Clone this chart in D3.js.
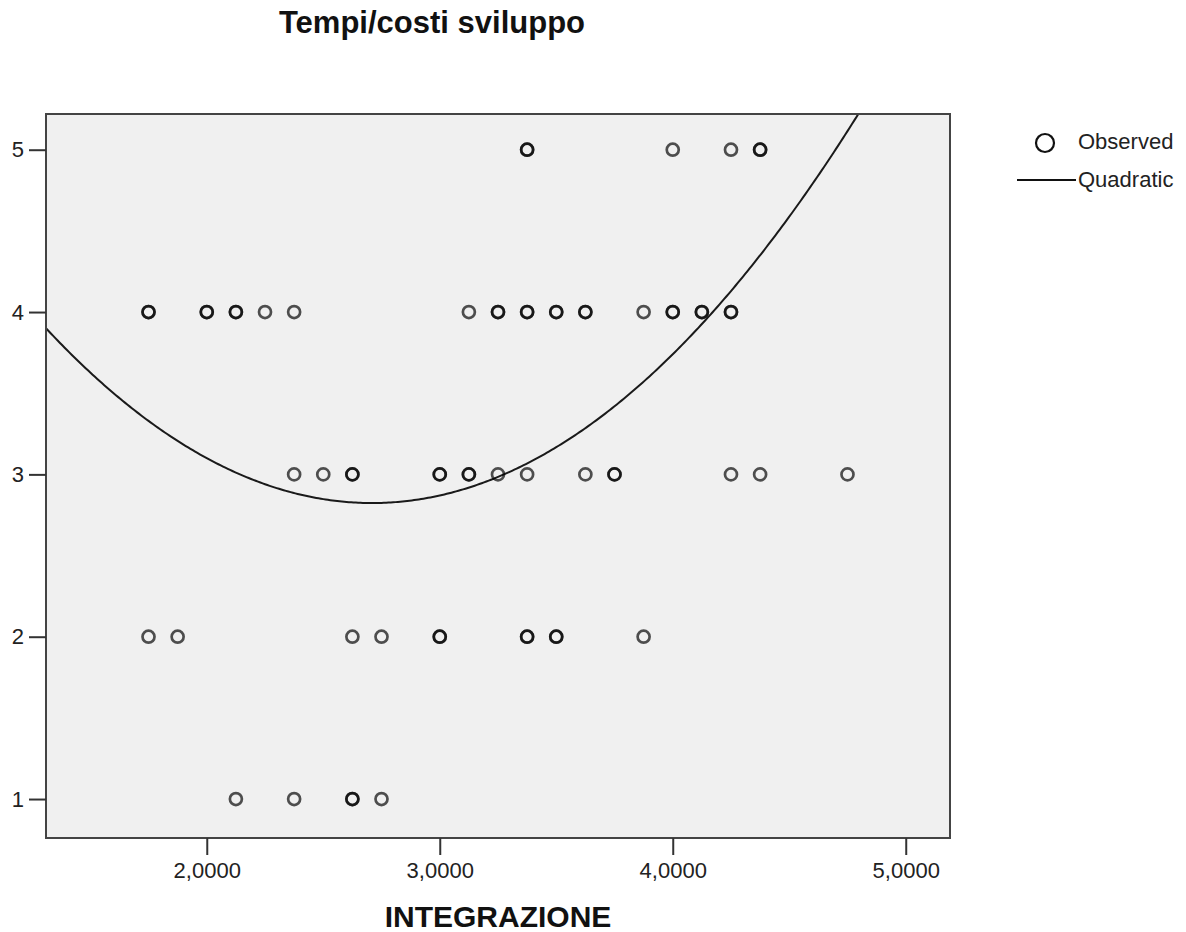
<!DOCTYPE html>
<html lang="it">
<head>
    <meta charset="UTF-8">
    <title>Tempi/costi sviluppo</title>
    <script src="https://cdn.jsdelivr.net/npm/d3@7/dist/d3.min.js"></script>
    <style>
        body { margin: 0; background: #fff; }
        svg { display: block; font-family: Arial, "Liberation Sans", sans-serif; }
    </style>
</head>
<body>
<script>
    // observed points (duplicates = overlapping markers)
    var obsX = [3.375, 3.375, 4.0, 4.25, 4.375, 4.375,
        1.75, 1.75, 2.0, 2.0, 2.125, 2.125, 2.25, 2.375, 3.125, 3.25, 3.25, 3.375, 3.375,
        3.5, 3.5, 3.625, 3.625, 3.875, 4.0, 4.0, 4.125, 4.125, 4.25, 4.25,
        2.375, 2.5, 2.625, 2.625, 3.0, 3.0, 3.125, 3.125, 3.25, 3.375, 3.625, 3.75, 3.75,
        4.25, 4.375, 4.75,
        1.75, 1.875, 2.625, 2.75, 3.0, 3.0, 3.375, 3.375, 3.5, 3.5, 3.875,
        2.125, 2.375, 2.625, 2.625, 2.75];
    var obsY = [5, 5, 5, 5, 5, 5,
        4, 4, 4, 4, 4, 4, 4, 4, 4, 4, 4, 4, 4,
        4, 4, 4, 4, 4, 4, 4, 4, 4, 4, 4,
        3, 3, 3, 3, 3, 3, 3, 3, 3, 3, 3, 3, 3,
        3, 3, 3,
        2, 2, 2, 2, 2, 2, 2, 2, 2, 2, 2,
        1, 1, 1, 1, 1];
    // quadratic fit: b0 + b1*x + b2*x^2
    var quadCoef = [6.86, -2.98, 0.55];
    var xTicks = [2, 3, 4, 5];
    var yTicks = [1, 2, 3, 4, 5];
    var legendLabels = ["Observed", "Quadratic"];

    var W = 1186, H = 932;
    var plot = { left: 46, right: 950, top: 114, bottom: 838 };

    var svg = d3.select("body").append("svg")
        .attr("width", W)
        .attr("height", H);

    var xScale = d3.scaleLinear()
        .domain([1.31, 5.19])
        .range([plot.left, plot.right]);

    var yScale = d3.scaleLinear()
        .domain([0.76, 5.22])
        .range([plot.bottom, plot.top]);

    // plot background
    svg.append("rect")
        .attr("x", plot.left)
        .attr("y", plot.top)
        .attr("width", plot.right - plot.left)
        .attr("height", plot.bottom - plot.top)
        .attr("fill", "#f0f0f0");

    svg.append("clipPath").attr("id", "clip")
        .append("rect")
        .attr("x", plot.left)
        .attr("y", plot.top)
        .attr("width", plot.right - plot.left)
        .attr("height", plot.bottom - plot.top);

    // fit line
    var xs = d3.range(xScale.domain()[0], xScale.domain()[1], 0.01);
    var line = d3.line()
        .x(d => xScale(d))
        .y(d => yScale(quadCoef[0] + quadCoef[1] * d + quadCoef[2] * d * d));

    svg.append("path")
        .datum(xs)
        .attr("clip-path", "url(#clip)")
        .attr("d", line)
        .attr("fill", "none")
        .attr("stroke", "#1a1a1a")
        .attr("stroke-width", 2);

    // points
    svg.append("g").selectAll("circle")
        .data(obsX)
        .enter()
        .append("circle")
        .attr("cx", d => xScale(d))
        .attr("cy", (d, i) => yScale(obsY[i]))
        .attr("r", 6)
        .attr("fill", "none")
        .attr("stroke", "#000")
        .attr("stroke-opacity", 0.68)
        .attr("stroke-width", 2.7);

    // frame
    svg.append("rect")
        .attr("x", plot.left)
        .attr("y", plot.top)
        .attr("width", plot.right - plot.left)
        .attr("height", plot.bottom - plot.top)
        .attr("fill", "none")
        .attr("stroke", "#444")
        .attr("stroke-width", 2);

    var fmt = d => d3.format(".4f")(d).replace(".", ",");

    var xaxis = d3.axisBottom(xScale)
        .tickValues(xTicks)
        .tickFormat(fmt)
        .tickSize(17)
        .tickPadding(7);

    var yaxis = d3.axisLeft(yScale)
        .tickValues(yTicks)
        .tickFormat(d3.format("d"))
        .tickSize(17)
        .tickPadding(5);

    var gx = svg.append("g")
        .attr("transform", "translate(0," + plot.bottom + ")")
        .call(xaxis);
    var gy = svg.append("g")
        .attr("transform", "translate(" + plot.left + ",0)")
        .call(yaxis);

    [gx, gy].forEach(g => {
        g.select(".domain").remove();
        g.selectAll(".tick line").attr("stroke", "#333").attr("stroke-width", 2);
        g.selectAll(".tick text")
            .attr("fill", "#222")
            .style("font-size", "22px")
            .style("font-family", "Arial, 'Liberation Sans', sans-serif");
    });

    // titles
    svg.append("text")
        .attr("x", 432)
        .attr("y", 33)
        .attr("text-anchor", "middle")
        .attr("font-weight", "bold")
        .attr("font-size", 31)
        .attr("fill", "#111")
        .text("Tempi/costi sviluppo");

    svg.append("text")
        .attr("x", (plot.left + plot.right) / 2)
        .attr("y", 927)
        .attr("text-anchor", "middle")
        .attr("font-weight", "bold")
        .attr("font-size", 30)
        .attr("fill", "#111")
        .text("INTEGRAZIONE");

    // legend
    var lg = svg.append("g");
    lg.append("circle")
        .attr("cx", 1045)
        .attr("cy", 143)
        .attr("r", 9)
        .attr("fill", "none")
        .attr("stroke", "#111")
        .attr("stroke-width", 2.2);
    lg.append("line")
        .attr("x1", 1017).attr("x2", 1076)
        .attr("y1", 180).attr("y2", 180)
        .attr("stroke", "#111")
        .attr("stroke-width", 2);
    lg.selectAll("text.lab")
        .data(legendLabels)
        .enter()
        .append("text")
        .attr("class", "lab")
        .attr("x", 1078)
        .attr("y", (d, i) => 149 + i * 38)
        .attr("font-size", 22)
        .attr("fill", "#222")
        .text(d => d);
</script>
</body>
</html>
